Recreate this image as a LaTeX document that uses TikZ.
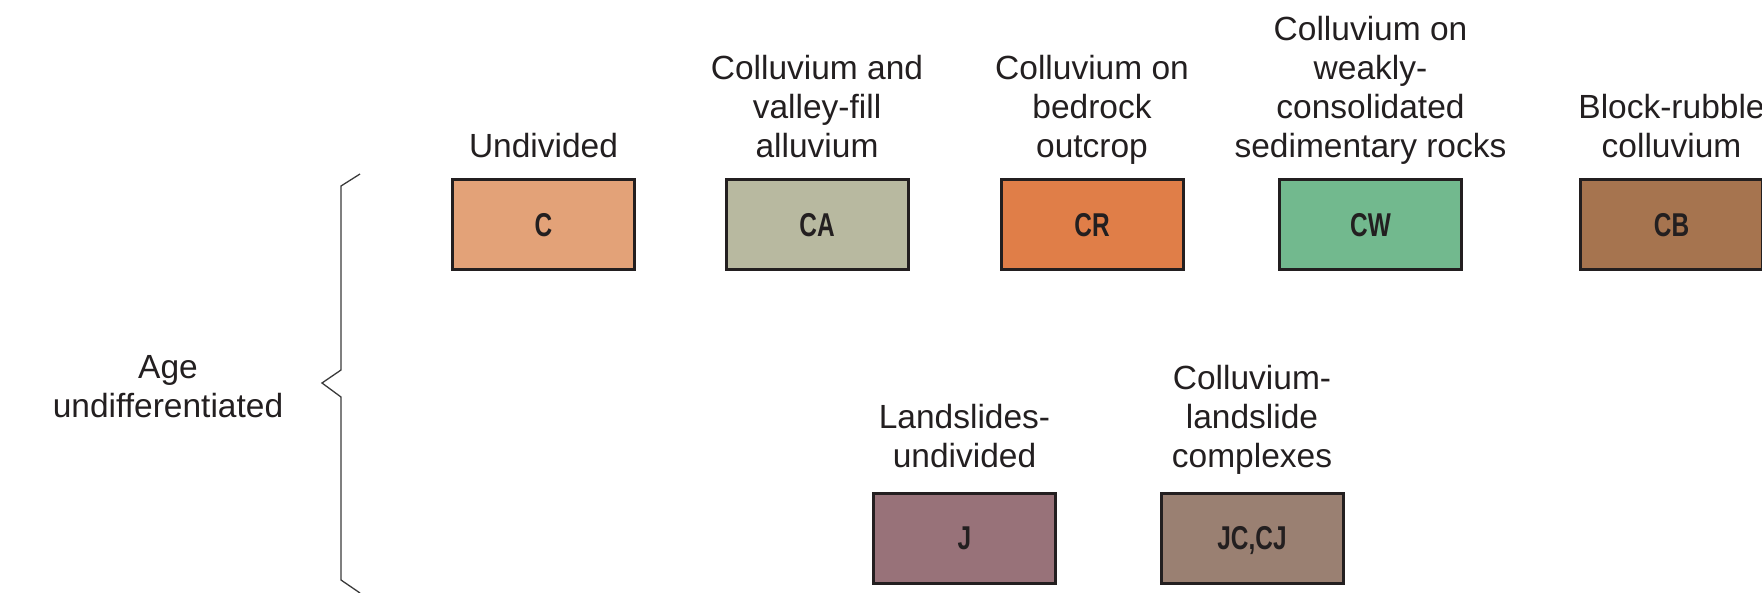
\documentclass[tikz,border=0pt]{standalone}
\usepackage{fontspec}
\setmainfont{Liberation Sans}
\usepackage{graphicx}

\definecolor{ink}{HTML}{231F20}
\definecolor{bracecol}{HTML}{3A3A3A}
\definecolor{colC}{HTML}{E3A278}
\definecolor{colCA}{HTML}{B8B9A0}
\definecolor{colCR}{HTML}{E07E48}
\definecolor{colCW}{HTML}{72B98E}
\definecolor{colCB}{HTML}{A6744F}
\definecolor{colJ}{HTML}{987279}
\definecolor{colJC}{HTML}{9A8072}

% map-unit symbol: bold, horizontally condensed
\newcommand{\unitsym}[1]{\scalebox{0.74}[1]{\bfseries #1}}

\tikzset{
  unitbox/.style={draw=ink, line width=3pt, fill=#1,
    minimum width=182pt, minimum height=90pt, inner sep=0pt,
    text=ink, text depth=0pt, font=\fontsize{33}{38}\selectfont},
  unitlabel/.style={anchor=south, inner sep=0pt, text depth=0pt,
    align=center, text=ink, font=\fontsize{33.5}{39}\selectfont},
  bracket/.style={draw=bracecol, line width=1.3pt, line join=miter}
}

\begin{document}
\begin{tikzpicture}[x=1pt, y=-1pt]
\clip (0,0) rectangle (1762,592);

% upper row of colluvium units
\node[unitbox=colC]  (C)  at (543.5,224.5) {\unitsym{C}};
\node[unitbox=colCA] (CA) at (817,224.5)   {\unitsym{CA}};
\node[unitbox=colCR] (CR) at (1092,224.5)  {\unitsym{CR}};
\node[unitbox=colCW] (CW) at (1370.5,224.5){\unitsym{CW}};
\node[unitbox=colCB] (CB) at (1671.5,224.5){\unitsym{CB}};

% lower row of landslide units
\node[unitbox=colJ]  (J)  at (964.5,538)   {\unitsym{J}};
\node[unitbox=colJC] (JC) at (1252,538)    {\unitsym{JC,CJ}};

% unit descriptions
\node[unitlabel] (tC)  at (543.5,158)  {Undivided};
\node[unitlabel] (tCA) at (817,158)    {Colluvium and\\valley-fill\\alluvium};
\node[unitlabel] (tCR) at (1092,158)   {Colluvium on\\bedrock\\outcrop};
\node[unitlabel] (tCW) at (1370.5,158) {Colluvium on\\weakly-\\consolidated\\sedimentary rocks};
\node[unitlabel] (tCB) at (1671.5,158) {Block-rubble\\colluvium};
\node[unitlabel] (tJ)  at (964.5,468)  {Landslides-\\undivided};
\node[unitlabel] (tJC) at (1252,468)   {Colluvium-\\landslide\\complexes};

% age group
\node[unitlabel] (age) at (168,418) {Age\\undifferentiated};

\coordinate (bTop) at (360,174);
\coordinate (bBot) at (360,593);
\draw[bracket] (bTop) -- (341,186) -- (341,370) -- (322,383) -- (341,397)
  -- (341,580) -- (bBot);
\end{tikzpicture}
\end{document}
